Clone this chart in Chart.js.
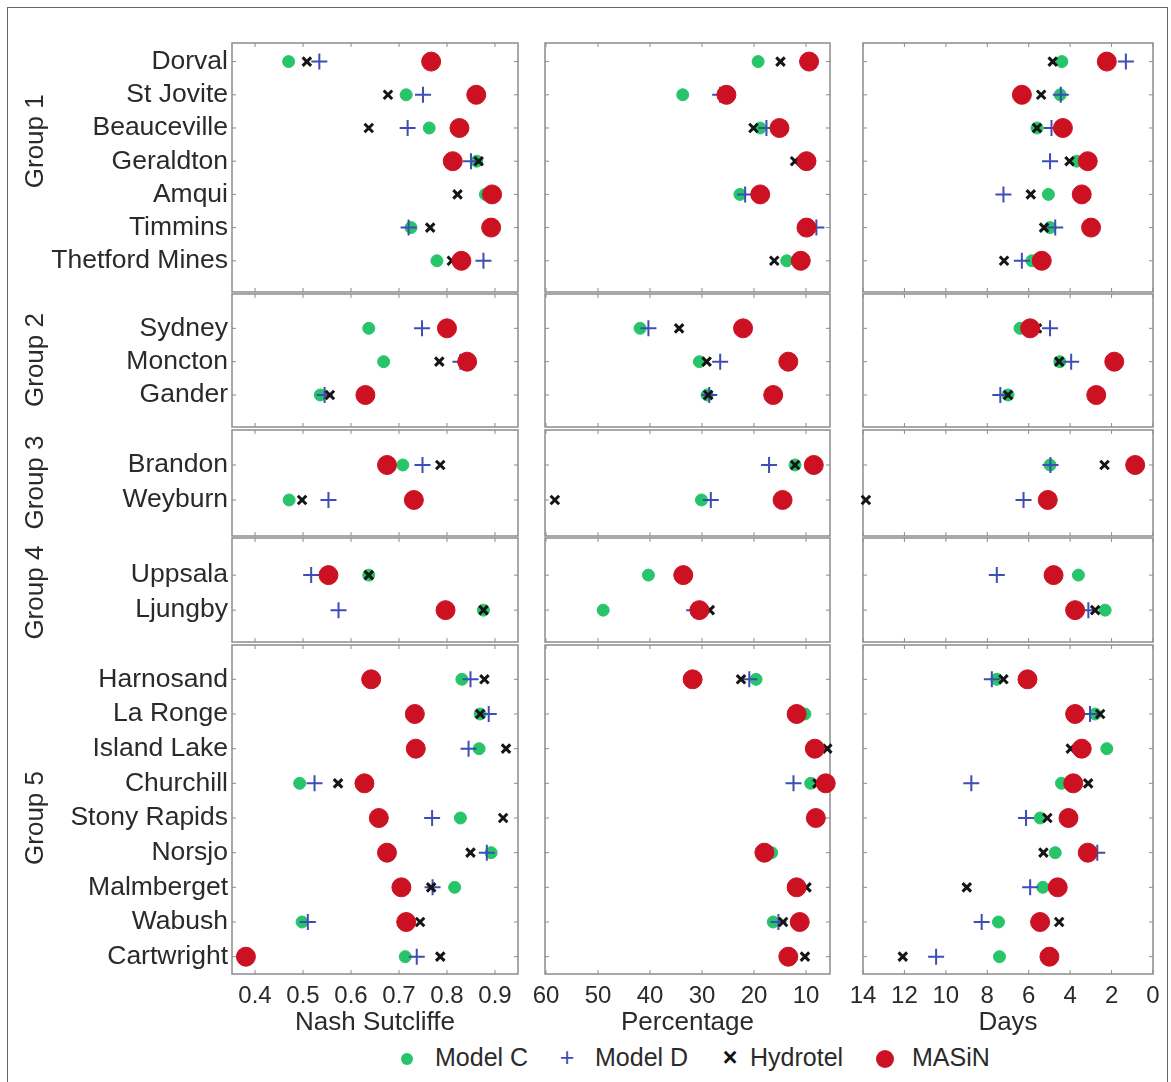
<!DOCTYPE html>
<html lang="en">
<head>
<meta charset="UTF-8" />
<title>Model comparison by station</title>
<script src="https://cdn.jsdelivr.net/npm/chart.js"></script>
<style>
  body { margin: 0; background: #fff; font-family: "Liberation Sans", Arial, sans-serif; color: #2a2a2a; }
  #page { position: relative; width: 1171px; height: 1082px; overflow: hidden; }
  #outline { position: absolute; left: 7px; top: 7px; width: 1161px; height: 1090px; border: 1px solid #666; box-sizing: border-box; }
  canvas { position: absolute; }
  .key { position: absolute; top: 1041px; font-size: 25px; line-height: 32px; white-space: nowrap; }
  .dot { display: inline-block; border-radius: 50%; vertical-align: middle; }
  .sym { display: inline-block; text-align: center; }
</style>
</head>
<body>
<div id="page">
  <div id="outline"></div>
  <span class="key" style="left:401px"><i class="dot" style="width:12px;height:12px;background:#27c46a;margin-right:22px"></i>Model C</span>
  <span class="key" style="left:558px"><b class="sym" style="color:#3d4db5;font-weight:normal;width:18px;margin-right:19px">+</b>Model D</span>
  <span class="key" style="left:721px"><b class="sym" style="color:#111;width:18px;margin-right:11px">×</b>Hydrotel</span>
  <span class="key" style="left:876px"><i class="dot" style="width:18px;height:18px;background:#cc1122;margin-right:18px"></i>MASiN</span>
</div>

<script>
  // stations, top to bottom, and how many belong to each group
  const stations = ['Dorval', 'St Jovite', 'Beauceville', 'Geraldton', 'Amqui', 'Timmins', 'Thetford Mines',
    'Sydney', 'Moncton', 'Gander',
    'Brandon', 'Weyburn',
    'Uppsala', 'Ljungby',
    'Harnosand', 'La Ronge', 'Island Lake', 'Churchill', 'Stony Rapids', 'Norsjo', 'Malmberget', 'Wabush', 'Cartwright'];
  const groupNames = ['Group 1', 'Group 2', 'Group 3', 'Group 4', 'Group 5'];
  const groupSizes = [7, 3, 2, 2, 9];

  const models = ['Model C', 'Model D', 'Hydrotel', 'MASiN'];

  // Nash Sutcliffe
  const nashModelC   = [0.47, 0.715, 0.763, 0.862, 0.88, 0.725, 0.779, 0.637, 0.668, 0.536, 0.708, 0.471, 0.637, 0.876, 0.831, 0.869, 0.867, 0.493, 0.828, 0.892, 0.816, 0.498, 0.713];
  const nashModelD   = [0.534, 0.75, 0.718, 0.85, 0.89, 0.72, 0.876, 0.748, 0.828, 0.545, 0.749, 0.553, 0.517, 0.574, 0.849, 0.887, 0.845, 0.524, 0.769, 0.883, 0.77, 0.51, 0.737];
  const nashHydrotel = [0.508, 0.677, 0.637, 0.866, 0.822, 0.765, 0.81, 0.80, 0.784, 0.556, 0.786, 0.498, 0.637, 0.876, 0.878, 0.869, 0.923, 0.573, 0.917, 0.849, 0.767, 0.744, 0.786];
  const nashMasin    = [0.767, 0.861, 0.826, 0.812, 0.894, 0.892, 0.83, 0.80, 0.842, 0.63, 0.675, 0.731, 0.553, 0.797, 0.642, 0.733, 0.735, 0.628, 0.658, 0.675, 0.705, 0.715, 0.381];

  // Percentage
  const pctModelC   = [19.2, 33.7, 18.8, 10.3, 22.7, 10.2, 13.7, 41.9, 30.5, 29.0, 12.1, 30.1, 40.3, 49.0, 19.6, 10.2, 8.5, 9.1, 8.3, 16.6, 11.5, 16.3, 12.8];
  const pctModelD   = [9.8, 26.5, 17.6, 9.6, 21.7, 8.0, 11.3, 40.3, 26.5, 28.6, 17.1, 28.3, 33.3, 31.5, 20.9, 12.1, 8.0, 12.4, 7.9, 18.2, 12.0, 15.3, 13.2];
  const pctHydrotel = [14.9, 25.5, 20.1, 12.1, 19.5, 9.8, 16.1, 34.4, 29.1, 28.8, 12.1, 58.3, 33.9, 28.5, 22.5, 11.5, 5.9, 7.8, 7.6, 17.8, 9.9, 14.4, 10.2];
  const pctMasin    = [9.4, 25.3, 15.1, 9.9, 18.8, 9.9, 11.0, 22.1, 13.4, 16.3, 8.5, 14.5, 33.6, 30.5, 31.8, 11.8, 8.3, 6.2, 8.1, 18.0, 11.8, 11.2, 13.4];

  // Days
  const dayModelC   = [4.4, 4.48, 5.6, 3.68, 5.05, 4.97, 5.85, 6.42, 4.5, 7.0, 4.97, 5.1, 3.6, 2.31, 7.54, 2.79, 2.23, 4.42, 5.45, 4.72, 5.32, 7.46, 7.41];
  const dayModelD   = [1.31, 4.45, 4.9, 4.97, 7.22, 4.72, 6.33, 4.97, 3.95, 7.37, 4.95, 6.25, 7.54, 3.12, 7.78, 3.04, 3.5, 8.77, 6.13, 2.69, 5.93, 8.27, 10.47];
  const dayHydrotel = [4.84, 5.4, 5.6, 4.03, 5.9, 5.26, 7.19, 5.6, 4.53, 7.0, 2.34, 13.86, 4.7, 2.79, 7.22, 2.55, 3.97, 3.13, 5.10, 5.29, 8.99, 4.53, 12.08];
  const dayMasin    = [2.23, 6.33, 4.35, 3.15, 3.44, 2.99, 5.37, 5.93, 1.87, 2.74, 0.86, 5.08, 4.8, 3.76, 6.06, 3.76, 3.44, 3.85, 4.08, 3.15, 4.60, 5.45, 5.0];

  const nashTicks = [0.4, 0.5, 0.6, 0.7, 0.8, 0.9];
  const pctTicks = [60, 50, 40, 30, 20, 10];
  const dayTicks = [14, 12, 10, 8, 6, 4, 2, 0];

  // one column per measure; left/right are the plot box edges on the page
  const columns = [
    { left: 232, right: 518, min: 0.352, max: 0.948, reverse: false, ticks: nashTicks, title: 'Nash Sutcliffe',
      fmt: v => v.toFixed(1), series: [nashModelC, nashModelD, nashHydrotel, nashMasin] },
    { left: 545, right: 830, min: 5.38, max: 60.19, reverse: true, ticks: pctTicks, title: 'Percentage',
      fmt: v => String(v), series: [pctModelC, pctModelD, pctHydrotel, pctMasin] },
    { left: 863, right: 1153, min: 0, max: 14, reverse: true, ticks: dayTicks, title: 'Days',
      fmt: v => String(v), series: [dayModelC, dayModelD, dayHydrotel, dayMasin] }
  ];

  // one row of boxes per group; y range in station slots, labelAt = slot the group name is centred on
  const rows = [
    { top: 43, bottom: 292, min: -0.56, max: 6.94, labelAt: 2.4 },
    { top: 294, bottom: 427, min: -1.03, max: 2.96, labelAt: 0.95 },
    { top: 430, bottom: 536, min: -1.0, max: 2.03, labelAt: 0.5 },
    { top: 538, bottom: 642, min: -1.06, max: 1.91, labelAt: 0.5 },
    { top: 645, bottom: 974, min: -0.99, max: 8.5, labelAt: 4.0 }
  ];

  const markerStyles = [
    { pointStyle: 'circle', radius: 6, color: '#27c46a', width: 1, order: 3 },
    { pointStyle: 'cross', radius: 8, color: '#3d4db5', width: 2, order: 2 },
    { pointStyle: 'crossRot', radius: 6, color: '#151515', width: 3, order: 1 },
    { pointStyle: 'circle', radius: 9.5, color: '#cc1122', width: 1, order: 0 }
  ];

  const textColor = '#2a2a2a';
  const frameColor = '#8c8c8c';
  const PAD = 28;

  // box around each plot area plus short inward tick marks
  const panelFrame = {
    id: 'panelFrame',
    beforeDatasetsDraw(chart, args, opts) {
      const { ctx, chartArea: a, scales } = chart;
      ctx.save();
      ctx.strokeStyle = frameColor;
      ctx.lineWidth = 1.5;
      ctx.strokeRect(a.left, a.top, a.width, a.height);
      ctx.lineWidth = 1;
      ctx.beginPath();
      opts.xTicks.forEach(v => {
        const x = scales.x.getPixelForValue(v);
        ctx.moveTo(x, a.top); ctx.lineTo(x, a.top + 4);
        ctx.moveTo(x, a.bottom); ctx.lineTo(x, a.bottom - 4);
      });
      for (let i = 0; i < opts.count; i++) {
        const y = scales.y.getPixelForValue(i);
        ctx.moveTo(a.left, y); ctx.lineTo(a.left + 4, y);
        ctx.moveTo(a.right, y); ctx.lineTo(a.right - 4, y);
      }
      ctx.stroke();
      ctx.restore();
    }
  };

  // rotated group name to the left of the station names
  const groupLabel = {
    id: 'groupLabel',
    afterDraw(chart, args, opts) {
      if (!opts.text) return;
      const { ctx, scales } = chart;
      ctx.save();
      ctx.translate(opts.x, scales.y.getPixelForValue(opts.at));
      ctx.rotate(-Math.PI / 2);
      ctx.font = '26px "Liberation Sans"';
      ctx.fillStyle = textColor;
      ctx.textAlign = 'center';
      ctx.textBaseline = 'middle';
      ctx.fillText(opts.text, 0, 0);
      ctx.restore();
    }
  };

  const page = document.getElementById('page');
  let start = 0;
  groupSizes.forEach((count, r) => {
    const row = rows[r];
    const names = stations.slice(start, start + count);
    const idx = names.map((_, i) => i);
    const bottomRow = r === rows.length - 1;

    columns.forEach((col, c) => {
      const firstCol = c === 0;
      const padL = firstCol ? 0 : PAD, padR = PAD, padT = PAD, padB = bottomRow ? 4 : PAD;
      const yAxisW = firstCol ? col.left - 8 : 0;
      const xAxisH = bottomRow ? 64 : 0;
      const left = firstCol ? 8 : col.left - PAD;
      const width = col.right + padR - left;
      const height = (row.bottom - row.top) + padT + padB + xAxisH;

      const canvas = document.createElement('canvas');
      canvas.width = width;
      canvas.height = height;
      canvas.style.left = left + 'px';
      canvas.style.top = (row.top - padT) + 'px';
      page.appendChild(canvas);

      const datasets = models.map((m, k) => ({
        label: m,
        data: idx.map(i => ({ x: col.series[k][start + i], y: i })),
        pointStyle: markerStyles[k].pointStyle,
        pointRadius: markerStyles[k].radius,
        pointBackgroundColor: markerStyles[k].color,
        pointBorderColor: markerStyles[k].color,
        pointBorderWidth: markerStyles[k].width,
        showLine: false,
        clip: false,
        order: markerStyles[k].order
      }));

      new Chart(canvas, {
        type: 'scatter',
        data: { datasets },
        options: {
          responsive: false,
          animation: false,
          events: [],
          layout: { autoPadding: false, padding: { left: padL, right: padR, top: padT, bottom: padB } },
          plugins: {
            legend: { display: false },
            tooltip: { enabled: false },
            panelFrame: { xTicks: col.ticks, count: count },
            groupLabel: { text: firstCol ? groupNames[r] : '', x: 28, at: row.labelAt }
          },
          scales: {
            x: {
              type: 'linear',
              display: bottomRow,
              min: col.min,
              max: col.max,
              reverse: col.reverse,
              grid: { display: false, drawTicks: false },
              border: { display: false },
              afterBuildTicks: s => { s.ticks = col.ticks.map(v => ({ value: v })); },
              afterFit: s => { s.height = xAxisH; },
              ticks: {
                color: textColor,
                font: { family: 'Liberation Sans', size: 24 },
                padding: 8,
                maxRotation: 0,
                autoSkip: false,
                callback: v => col.fmt(v)
              },
              title: {
                display: true,
                text: col.title,
                color: textColor,
                font: { family: 'Liberation Sans', size: 26 },
                padding: 0
              }
            },
            y: {
              type: 'linear',
              display: firstCol,
              min: row.min,
              max: row.max,
              reverse: true,
              grid: { display: false, drawTicks: false },
              border: { display: false },
              afterBuildTicks: s => { s.ticks = idx.map(v => ({ value: v })); },
              afterFit: s => { s.width = yAxisW; },
              ticks: {
                color: textColor,
                font: { family: 'Liberation Sans', size: 26.5 },
                padding: 4,
                autoSkip: false,
                callback: v => names[v]
              }
            }
          }
        },
        plugins: [panelFrame, groupLabel]
      });
    });
    start += count;
  });
</script>
</body>
</html>
